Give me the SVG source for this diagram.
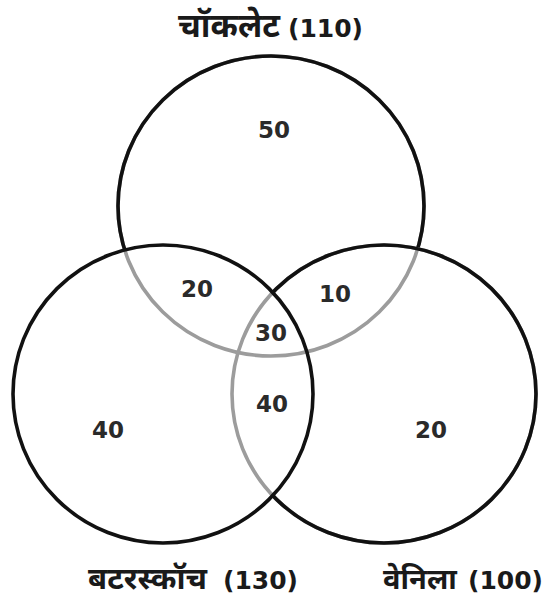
<svg xmlns="http://www.w3.org/2000/svg" width="547" height="598" viewBox="0 0 547 598">
<style>
.ring{fill:none;stroke-width:3.6}
.blk{stroke:#111}
.gry{stroke:#9c9c9c}
.num{font-family:"DejaVu Sans","Open Sans",sans-serif;font-weight:700;font-size:23px;fill:#2a2a2a;text-anchor:middle}
.dev{font-family:"Noto Sans","Noto Sans Devanagari","Lohit Devanagari",sans-serif;font-weight:700;font-size:31px;fill:#1a1a1a}
.par{font-family:"DejaVu Sans","Open Sans",sans-serif;font-weight:700;font-size:25px;fill:#1a1a1a;text-anchor:end}
</style>
<defs>
<mask id="mTop" maskUnits="userSpaceOnUse" x="0" y="0" width="547" height="598">
<rect width="547" height="598" fill="#fff"/>
<ellipse cx="163" cy="394" rx="150" ry="149" fill="#000"/>
<ellipse cx="384" cy="394" rx="152" ry="149" fill="#000"/>
</mask>
<mask id="mRight" maskUnits="userSpaceOnUse" x="0" y="0" width="547" height="598">
<rect width="547" height="598" fill="#fff"/>
<ellipse cx="163" cy="394" rx="150" ry="149" fill="#000"/>
</mask>
</defs>
<rect width="547" height="598" fill="#fff"/>
<g id="chocolate">
<ellipse class="ring gry" cx="271" cy="206" rx="153" ry="150"/>
<ellipse class="ring blk" cx="271" cy="206" rx="153" ry="150" mask="url(#mTop)"/>
<text class="dev" x="178" y="37" style="font-size:33px">चॉकलेट</text>
<text class="par" x="363" y="37">(110)</text>
</g>
<g id="vanilla">
<ellipse class="ring gry" cx="384" cy="394" rx="152" ry="149"/>
<ellipse class="ring blk" cx="384" cy="394" rx="152" ry="149" mask="url(#mRight)"/>
<text class="dev" x="383" y="589" style="font-size:29px">वेनिला</text>
<text class="par" x="543" y="589">(100)</text>
</g>
<g id="butterscotch">
<ellipse class="ring blk" cx="163" cy="394" rx="150" ry="149"/>
<text class="dev" x="88" y="589">बटरस्कॉच</text>
<text class="par" x="298" y="589">(130)</text>
</g>
<g id="values">
<text class="num" x="274" y="138">50</text>
<text class="num" x="197" y="297">20</text>
<text class="num" x="335" y="302">10</text>
<text class="num" x="271" y="341">30</text>
<text class="num" x="272" y="412">40</text>
<text class="num" x="108" y="438">40</text>
<text class="num" x="431" y="438">20</text>
</g>
</svg>
